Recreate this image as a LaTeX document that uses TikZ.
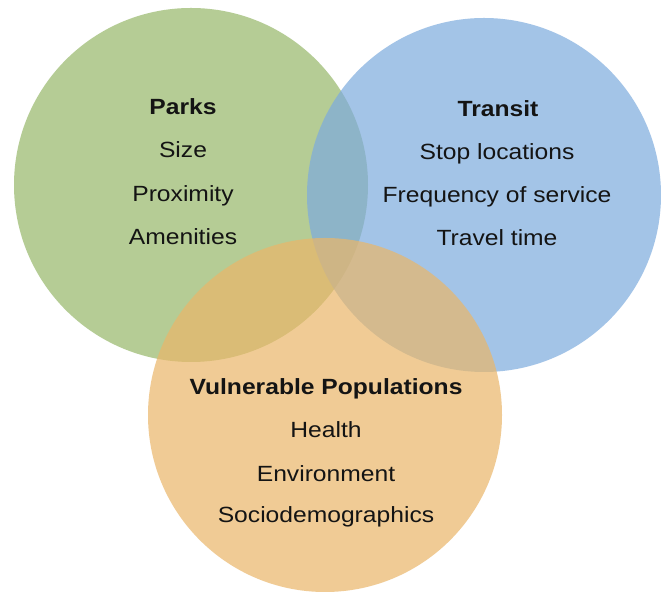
\documentclass[tikz,border=0pt]{standalone}
\usepackage{fontspec}
\setmainfont{Liberation Sans}[FakeStretch=1.12]
\definecolor{parkgreen}{RGB}{181,204,149}
\definecolor{transitblue}{RGB}{125,171,222}
\definecolor{vulnorange}{RGB}{234,182,105}
\definecolor{textdark}{RGB}{20,20,20}
\begin{document}
\begin{tikzpicture}[x=1pt,y=1pt,
  venn/.style={circle, draw=none, minimum size=354pt, inner sep=0pt},
  txt/.style={anchor=base, inner sep=0pt, font=\fontsize{22}{26}\selectfont, text=textdark},
  head/.style={txt, font=\fontsize{22}{26}\selectfont\bfseries}]
\useasboundingbox (0,0) rectangle (661,593);
\fill[white] (0,0) rectangle (661,593);
\node[venn, fill=parkgreen] (parks) at (191,408) {};
\node[venn, fill=transitblue, fill opacity=0.7] (transit) at (484,398) {};
\node[venn, fill=vulnorange, fill opacity=0.7] (vuln) at (325,178) {};
% Parks
\node[head] (parksT) at (183,478) {Parks};
\node[txt] (size) at (183,435) {Size};
\node[txt] (prox) at (183,391.5) {Proximity};
\node[txt] (amen) at (183,348.5) {Amenities};
% Transit
\node[head] (transitT) at (498,476) {Transit};
\node[txt] (stop) at (497,433) {Stop locations};
\node[txt] (freq) at (497,390) {Frequency of service};
\node[txt] (travel) at (497,347) {Travel time};
% Vulnerable Populations
\node[head] (vulnT) at (326,198) {Vulnerable Populations};
\node[txt] (health) at (326,155) {Health};
\node[txt] (env) at (326,111.5) {Environment};
\node[txt] (socio) at (326,70) {Sociodemographics};
\end{tikzpicture}
\end{document}
